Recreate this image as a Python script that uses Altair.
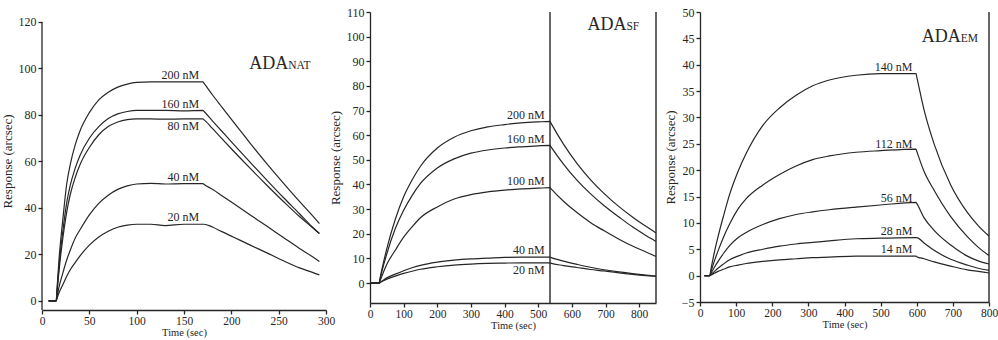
import altair as alt
import pandas as pd

FONT = "Liberation Serif"
INK = "#262626"

# ---------------- ADA NAT : response (arcsec) vs time (sec) ----------------
NAT_TIME = [7, 15, 16, 18, 22, 26, 30, 35, 40, 50, 60, 70, 80, 90, 100, 115, 130, 150,
            170, 171, 180, 190, 202, 220, 237, 255, 272, 285, 293]
NAT_200 = [0, 0, 6, 18, 35, 50, 59, 67, 73, 81, 86.5, 89.8, 92, 93.3, 94, 94.2, 94.2, 94.2,
           94.2, 93.7, 88.7, 83.4, 77.1, 67.8, 59.3, 50.7, 42.8, 37, 33.3]
NAT_160 = [0, 0, 5, 15, 30, 42, 50, 57, 62.5, 70, 75, 78.5, 80.5, 81.5, 82, 82, 82, 81.8,
           82, 81.6, 77.5, 73, 67.6, 59.6, 52.2, 44.5, 37.5, 32, 29]
NAT_80 = [0, 0, 4.3, 13, 27, 38, 46, 53, 58.5, 66, 71.5, 75, 77, 78, 78.3, 78.3, 78.2, 78.3,
          78.3, 78, 74.2, 69.8, 64.6, 57, 50, 42.8, 36.3, 31.8, 29]
NAT_40 = [0, 0, 2, 6, 12, 17.5, 22, 27, 30.5, 37, 42, 45.5, 48, 49.5, 50.3, 50.6, 50.3, 50.5,
          50.5, 50.2, 48, 45.3, 42, 37, 32.3, 27.3, 22.6, 19.2, 17]
NAT_20 = [0, 0, 1.2, 3.5, 7, 10.5, 13.5, 16.5, 19.3, 24, 27.5, 30, 31.7, 32.6, 33, 33, 32.4, 33,
          33, 33, 31.8, 29.8, 27.5, 24, 20.8, 17.3, 14.2, 12.4, 11.2]
NAT_NAMES = ["200 nM", "160 nM", "80 nM", "40 nM", "20 nM"]
NAT_LABEL_BELOW = [False, False, True, False, False]

# ---------------- ADA SF ----------------
SF_TIME = [0, 27, 30, 35, 50, 75, 100, 125, 150, 200, 250, 300, 350, 400, 450, 500,
           535, 537, 575, 615, 655, 696, 740, 780, 820, 850]
SF_200 = [0, 0, 2, 5.3, 14, 25.8, 35, 41.8, 47.4, 54.8, 59.2, 61.8, 63.4, 64.3, 65, 65.4,
          65.6, 65.1, 56.4, 48.6, 42, 36.3, 31, 26.8, 23, 20.3]
SF_160 = [0, 0, 1.7, 4.5, 11.9, 22, 29.5, 35.5, 40.4, 46.7, 50.4, 52.7, 54, 54.8, 55.3, 55.7,
          55.9, 55.5, 48.3, 41.8, 36.3, 31.4, 26.8, 22.8, 19.3, 16.9]
SF_100 = [0, 0, 1, 2.7, 7.6, 13.3, 18.6, 22.8, 26.5, 30.9, 34.1, 35.9, 37, 37.7, 38.2, 38.5,
          38.7, 38.4, 33.2, 28.6, 24.6, 21.2, 17.8, 15, 12.6, 10.8]
SF_40 = [0, 0, 0.25, 0.7, 2.1, 3.6, 5, 6.2, 7.2, 8.5, 9.3, 9.8, 10.1, 10.4, 10.5, 10.5,
         10.5, 10.4, 8.9, 7.6, 6.4, 5.4, 4.5, 3.8, 3.2, 2.8]
SF_20 = [0, 0, 0.2, 0.6, 1.6, 2.8, 3.9, 4.8, 5.6, 6.6, 7.3, 7.7, 7.95, 8.1, 8.2, 8.2,
         8.2, 8.1, 7.1, 6.3, 5.5, 4.9, 4.1, 3.5, 3.0, 2.7]
SF_NAMES = ["200 nM", "160 nM", "100 nM", "40 nM", "20 nM"]
SF_LABEL_BELOW = [False, False, False, False, True]
SF_MARKERS = [535, 850]

# ---------------- ADA EM ----------------
EM_TIME = [12, 27, 30, 40, 50, 65, 82, 105, 128, 174, 220, 266, 312, 358, 432, 500,
           598, 600, 620, 648, 694, 740, 770, 800]
EM_140 = [0, 0, 1.1, 4.5, 7.4, 11.3, 15.4, 19.7, 23.2, 28.5, 31.8, 34.2, 36, 37.1, 38, 38.3,
          38.3, 37.7, 31.5, 25, 17.2, 12, 9.5, 7.5]
EM_112 = [0, 0, 0.7, 2.8, 4.7, 7.3, 9.8, 12.6, 14.6, 17.2, 19.2, 20.8, 22, 22.7, 23.4, 23.7,
          24, 23.6, 19.8, 16.2, 11.2, 7.4, 5.4, 3.8]
EM_56 = [0, 0, 0.4, 1.6, 2.7, 4.2, 5.7, 7.2, 8.2, 9.7, 10.8, 11.6, 12.1, 12.5, 13, 13.4,
         13.9, 13.7, 11, 8.6, 5.8, 3.7, 2.8, 2.2]
EM_28 = [0, 0, 0.2, 0.8, 1.4, 2.2, 3.0, 3.7, 4.3, 5, 5.6, 6, 6.3, 6.6, 7, 7.1,
         7.2, 7.2, 6.2, 4.8, 3.1, 2, 1.4, 1.0]
EM_14 = [0, 0, 0.1, 0.45, 0.8, 1.2, 1.65, 2.0, 2.3, 2.7, 3, 3.2, 3.4, 3.5, 3.7, 3.7,
         3.7, 3.6, 3.2, 2.6, 1.8, 1.1, 0.8, 0.5]
EM_NAMES = ["140 nM", "112 nM", "56 nM", "28 nM", "14 nM"]
EM_LABEL_BELOW = [False, False, False, False, False]
EM_MARKERS = [800]


def curves(time, names, series):
    rows = []
    for name, values in zip(names, series):
        for t, r in zip(time, values):
            rows.append({"t": t, "r": r, "s": name})
    return pd.DataFrame(rows)


def panel(df, names, below, label_t, x_dom, x_ticks, y_dom, y_ticks, width, height,
          main, sub, title_t, title_r, markers=None, y_axis_top=None):
    xs = alt.Scale(domain=x_dom, nice=False, zero=False)
    ys = alt.Scale(domain=y_dom, nice=False, zero=False)
    x_axis = alt.Axis(values=x_ticks, title="Time (sec)", grid=False, labelFlush=False,
                      labelOverlap=False, labelFont=FONT, labelFontSize=11.5, labelColor=INK,
                      titleFont=FONT, titleFontSize=10.5, titleFontWeight="normal",
                      titleColor=INK, tickSize=4, tickWidth=1.3, tickColor=INK,
                      domainColor=INK, domainWidth=1.3, labelPadding=1, titlePadding=1)
    y_axis = alt.Axis(values=y_ticks, title="Response (arcsec)", grid=False,
                      labelFlush=False, labelOverlap=False, labelFont=FONT,
                      labelFontSize=12, labelColor=INK, titleFont=FONT, titleFontSize=13,
                      titleFontWeight="normal", titleColor=INK, tickSize=4, tickWidth=1.3,
                      tickColor=INK, domainColor=INK, domainWidth=1.3, labelPadding=2,
                      titlePadding=4, domain=y_axis_top is None)

    def X(field):
        return alt.X(field, scale=xs, axis=x_axis)

    def Y(field):
        return alt.Y(field, scale=ys, axis=y_axis)

    lines = alt.Chart(df).mark_line(interpolate="monotone", stroke=INK, strokeWidth=1.2).encode(
        x=X("t:Q"), y=Y("r:Q"), detail="s:N",
    )

    # concentration tags at the end of each association plateau
    plateau = df[df["t"] <= label_t].groupby("s", sort=False)["r"].last()
    tags = pd.DataFrame({
        "t": [label_t] * len(names),
        "r": [plateau[n] for n in names],
        "text": names,
        "below": below,
    })
    layers = [lines]
    up = tags[~tags["below"]]
    down = tags[tags["below"]]
    if len(up):
        layers.append(alt.Chart(up).mark_text(
            align="right", baseline="alphabetic", dy=-3, font=FONT, fontSize=12, color=INK
        ).encode(x=X("t:Q"), y=Y("r:Q"), text="text:N"))
    if len(down):
        layers.append(alt.Chart(down).mark_text(
            align="right", baseline="top", dy=2, font=FONT, fontSize=12, color=INK
        ).encode(x=X("t:Q"), y=Y("r:Q"), text="text:N"))

    # protein name, with the variant suffix in small capitals
    head = pd.DataFrame({"t": [title_t], "r": [title_r], "a": [main], "b": [sub]})
    layers.append(alt.Chart(head).mark_text(
        align="right", baseline="alphabetic", font=FONT, fontSize=18, color=INK
    ).encode(x=X("t:Q"), y=Y("r:Q"), text="a:N"))
    layers.append(alt.Chart(head).mark_text(
        align="left", baseline="alphabetic", font=FONT, fontSize=11.5, color=INK
    ).encode(x=X("t:Q"), y=Y("r:Q"), text="b:N"))

    if markers:
        mk = pd.DataFrame({"t": markers, "r0": [y_dom[0]] * len(markers),
                           "r1": [y_dom[1]] * len(markers)})
        layers.append(alt.Chart(mk).mark_rule(color=INK, strokeWidth=1.4).encode(
            x=X("t:Q"), y=Y("r0:Q"), y2="r1:Q"))

    if y_axis_top is not None:
        ax = pd.DataFrame({"t": [x_dom[0]], "r0": [y_dom[0]], "r1": [y_axis_top]})
        layers.append(alt.Chart(ax).mark_rule(color=INK, strokeWidth=1.3).encode(
            x=X("t:Q"), y=Y("r0:Q"), y2="r1:Q"))

    return alt.layer(*layers).properties(width=width, height=height)


nat = panel(curves(NAT_TIME, NAT_NAMES, [NAT_200, NAT_160, NAT_80, NAT_40, NAT_20]),
            NAT_NAMES, NAT_LABEL_BELOW, 166, [0, 300], list(range(0, 301, 50)),
            [-3.9, 124.3], list(range(0, 121, 20)), 284, 298,
            "ADA", "NAT", 260, 99.8, y_axis_top=120)

sf = panel(curves(SF_TIME, SF_NAMES, [SF_200, SF_160, SF_100, SF_40, SF_20]),
           SF_NAMES, SF_LABEL_BELOW, 519, [0, 850], list(range(0, 801, 100)),
           [-8.1, 110], list(range(0, 111, 10)), 286, 291,
           "ADA", "SF", 762, 102.7, markers=SF_MARKERS)

em = panel(curves(EM_TIME, EM_NAMES, [EM_140, EM_112, EM_56, EM_28, EM_14]),
           EM_NAMES, EM_LABEL_BELOW, 588, [0, 800], list(range(0, 801, 100)),
           [-5, 50], list(range(-5, 51, 5)), 289, 290,
           "ADA", "EM", 722, 44.4, markers=EM_MARKERS)

chart = alt.hconcat(nat, sf, em, spacing=44, bounds="flush").configure_view(
    stroke=None
).properties(
    padding={"left": 1, "top": 6, "right": 0, "bottom": 0},
    background="white",
)

chart.save("out.html", embed_options={"renderer": "svg", "actions": False})
